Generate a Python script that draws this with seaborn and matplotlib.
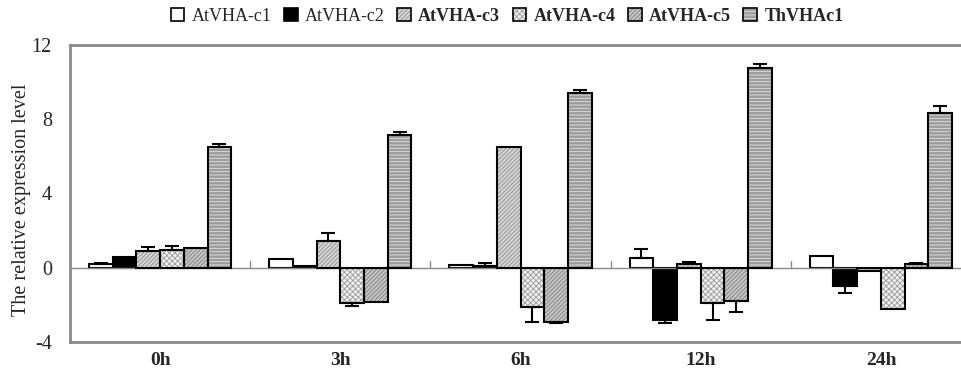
import numpy as np
import pandas as pd
import matplotlib
matplotlib.use("Agg")
import matplotlib.pyplot as plt
from matplotlib.patches import Rectangle
from matplotlib.legend_handler import HandlerTuple
import seaborn as sns

# ── Data ─────────────────────────────────────────────────────────────────────
times = ["0h", "3h", "6h", "12h", "24h"]
genes = ["AtVHA-c1", "AtVHA-c2", "AtVHA-c3", "AtVHA-c4", "AtVHA-c5", "ThVHAc1"]

c1 = [0.18, 0.45, 0.15, 0.50, 0.65]
c1_err = [0.10, 0.0, 0.0, 0.53, 0.0]
c2 = [0.60, 0.10, 0.08, -2.80, -1.00]
c2_err = [0.0, 0.0, 0.20, 0.20, 0.35]
c3 = [0.90, 1.45, 6.50, 0.20, -0.18]
c3_err = [0.20, 0.40, 0.0, 0.10, 0.0]
c4 = [0.95, -1.90, -2.10, -1.88, -2.20]
c4_err = [0.20, 0.17, 0.80, 0.93, 0.0]
c5 = [1.05, -1.83, -2.90, -1.80, 0.20]
c5_err = [0.0, 0.0, 0.05, 0.57, 0.05]
th = [6.50, 7.15, 9.43, 10.75, 8.35]
th_err = [0.17, 0.15, 0.13, 0.20, 0.36]

values = [c1, c2, c3, c4, c5, th]
errors = [c1_err, c2_err, c3_err, c4_err, c5_err, th_err]

df = pd.DataFrame({
    "time": np.tile(times, len(genes)),
    "gene": np.repeat(genes, len(times)),
    "value": np.concatenate(values),
})

# ── Style ────────────────────────────────────────────────────────────────────
sns.set_style("white")
plt.rcParams.update({
    "font.family": "Liberation Serif",
    "axes.unicode_minus": False,
    "hatch.linewidth": 0.6,
})

fills = {"AtVHA-c1": "white", "AtVHA-c2": "black", "AtVHA-c3": "#d6d6d6",
         "AtVHA-c4": "#f0f0f0", "AtVHA-c5": "#c6c6c6", "ThVHAc1": "#9c9c9c"}
hatches = {"AtVHA-c1": "", "AtVHA-c2": "", "AtVHA-c3": "////////",
           "AtVHA-c4": "xxxxxx", "AtVHA-c5": "////////", "ThVHAc1": "-----"}
hatch_col = {"AtVHA-c1": "black", "AtVHA-c2": "black", "AtVHA-c3": "#8c8c8c",
             "AtVHA-c4": "#9a9a9a", "AtVHA-c5": "#7c7c7c", "ThVHAc1": "#e4e4e4"}
bold = {"AtVHA-c3", "AtVHA-c4", "AtVHA-c5", "ThVHAc1"}
GREY = "#8a8a8a"

fig = plt.figure(figsize=(9.62, 3.82), dpi=100)
ax = fig.add_axes([70 / 962, 40 / 382, 901 / 962, 297 / 382])

sns.barplot(data=df, x="time", y="value", hue="gene", order=times,
            hue_order=genes, palette=fills, width=0.79, edgecolor="black",
            linewidth=1.5, legend=False, ax=ax)

# hatches (in their own colour), black outlines, one-sided error bars
for gene, cont, err in zip(genes, ax.containers, errors):
    xs, ys, es = [], [], []
    for bar, e in zip(cont.patches, err):
        if hatches[gene]:
            bar.set_hatch(hatches[gene])
            bar.set_edgecolor(hatch_col[gene])
            bar.set_linewidth(0)
            ax.add_patch(Rectangle(bar.get_xy(), bar.get_width(), bar.get_height(),
                                   fill=False, edgecolor="black", linewidth=1.5,
                                   zorder=bar.get_zorder() + 0.1))
        if e > 0:
            xs.append(bar.get_x() + bar.get_width() / 2)
            ys.append(bar.get_y() + bar.get_height())
            es.append(e)
    if xs:
        ys = np.array(ys)
        es = np.array(es)
        lower = np.where(ys < 0, es, 0)
        upper = np.where(ys >= 0, es, 0)
        ax.errorbar(xs, ys, yerr=[lower, upper], fmt="none", ecolor="black",
                    elinewidth=1.5, capsize=5, capthick=1.5, zorder=3)

# zero line with little separators between time points
ax.axhline(0, color=GREY, linewidth=1, zorder=1)
for b in np.arange(0.5, len(times) - 0.5, 1):
    ax.plot([b, b], [0, 0.35], color=GREY, linewidth=1, zorder=1)

ax.set_xlim(-0.5, len(times) - 0.5)
ax.set_ylim(-4, 12)
ax.set_yticks([-4, 0, 4, 8, 12])
ax.tick_params(axis="y", direction="in", length=6, width=1, color=GREY,
               labelsize=14.5, pad=13)
ax.tick_params(axis="x", length=0, labelsize=14, pad=7)
for lab in ax.get_xticklabels():
    lab.set_fontweight("bold")
ax.set_xlabel("")
ax.set_ylabel("The relative expression level", fontsize=14.5)
ax.yaxis.set_label_coords(-0.043, 0.48)

for side in ["left", "top", "bottom"]:
    ax.spines[side].set_color(GREY)
    ax.spines[side].set_linewidth(2)
ax.spines["right"].set_visible(False)

# legend handles: hatched square + black outline, overlaid
proxies = []
for g in genes:
    fill_sq = Rectangle((0, 0), 1, 1, facecolor=fills[g], hatch=hatches[g],
                        edgecolor=hatch_col[g], linewidth=0)
    edge_sq = Rectangle((0, 0), 1, 1, fill=False, edgecolor="black", linewidth=1.2)
    proxies.append((fill_sq, edge_sq))
leg = fig.legend(proxies, genes, loc="center", bbox_to_anchor=(0.527, 0.958),
                 ncol=6, frameon=False, fontsize=13, handlelength=0.75,
                 handleheight=0.75, handletextpad=0.4, columnspacing=0.7,
                 handler_map={tuple: HandlerTuple(ndivide=1, pad=0)})
for txt in leg.get_texts():
    if txt.get_text() in bold:
        txt.set_fontweight("bold")

fig.savefig("out.png", dpi=100)
